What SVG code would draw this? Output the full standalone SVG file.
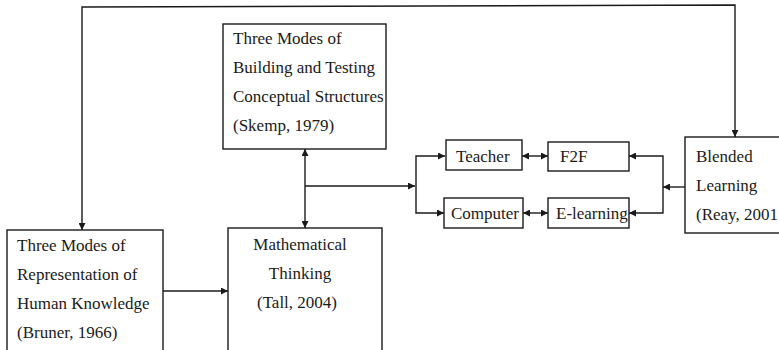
<svg xmlns="http://www.w3.org/2000/svg" width="779" height="350" viewBox="0 0 779 350">
<style>
.box{fill:#fff;stroke:#1a1a1a;stroke-width:1.4}
.ln{fill:none;stroke:#1a1a1a;stroke-width:1.4}
text{font-family:"Liberation Serif","Times New Roman",serif;font-size:17px;fill:#1a1a1a}
.c{text-anchor:middle}
</style>
<defs>
<marker id="ah" viewBox="0 0 10 10" refX="10" refY="5" markerWidth="7" markerHeight="7" markerUnits="userSpaceOnUse" orient="auto-start-reverse">
<path d="M0,0 L10,5 L0,10 z" fill="#1a1a1a"/>
</marker>
</defs>
<g id="connectors">
<polyline class="ln" points="735,137 735,5 82,7 82,230" marker-start="url(#ah)" marker-end="url(#ah)"/>
<line class="ln" x1="305" y1="149" x2="305" y2="228" marker-start="url(#ah)" marker-end="url(#ah)"/>
<line class="ln" x1="305" y1="186" x2="415" y2="186" marker-end="url(#ah)"/>
<polyline class="ln" points="445,156 416,156 416,213 444,213" marker-start="url(#ah)" marker-end="url(#ah)"/>
<line class="ln" x1="522" y1="156" x2="548" y2="156" marker-start="url(#ah)" marker-end="url(#ah)"/>
<line class="ln" x1="523" y1="213" x2="548" y2="213" marker-start="url(#ah)" marker-end="url(#ah)"/>
<polyline class="ln" points="629,156 663,156 663,213 629,213" marker-start="url(#ah)" marker-end="url(#ah)"/>
<line class="ln" x1="685" y1="187" x2="663" y2="187" marker-end="url(#ah)"/>
<line class="ln" x1="163" y1="291" x2="228" y2="291" marker-end="url(#ah)"/>
</g>
<g id="skemp">
<rect class="box" x="223" y="24" width="163" height="125"/>
<text x="233" y="44">Three Modes of</text>
<text x="233" y="73">Building and Testing</text>
<text x="233" y="102">Conceptual Structures</text>
<text x="233" y="131">(Skemp, 1979)</text>
</g>
<g id="bruner">
<rect class="box" x="7" y="230" width="156" height="130"/>
<text x="17" y="251">Three Modes of</text>
<text x="17" y="280">Representation of</text>
<text x="17" y="309">Human Knowledge</text>
<text x="17" y="338">(Bruner, 1966)</text>
</g>
<g id="math">
<rect class="box" x="228" y="228" width="154" height="132"/>
<text class="c" x="300" y="250">Mathematical</text>
<text class="c" x="300" y="279">Thinking</text>
<text class="c" x="297" y="308">(Tall, 2004)</text>
</g>
<g id="teacher">
<rect class="box" x="446" y="140" width="76" height="30"/>
<text x="456" y="162">Teacher</text>
</g>
<g id="f2f">
<rect class="box" x="548" y="142" width="81" height="29"/>
<text x="560" y="162">F2F</text>
</g>
<g id="computer">
<rect class="box" x="444" y="198" width="79" height="30"/>
<text x="451" y="219">Computer</text>
</g>
<g id="elearning">
<rect class="box" x="548" y="198" width="81" height="30"/>
<text x="556" y="219">E-learning</text>
</g>
<g id="blended">
<rect class="box" x="685" y="137" width="110" height="96"/>
<text x="696" y="162">Blended</text>
<text x="696" y="191">Learning</text>
<text x="696" y="220">(Reay, 2001</text>
</g>
</svg>
